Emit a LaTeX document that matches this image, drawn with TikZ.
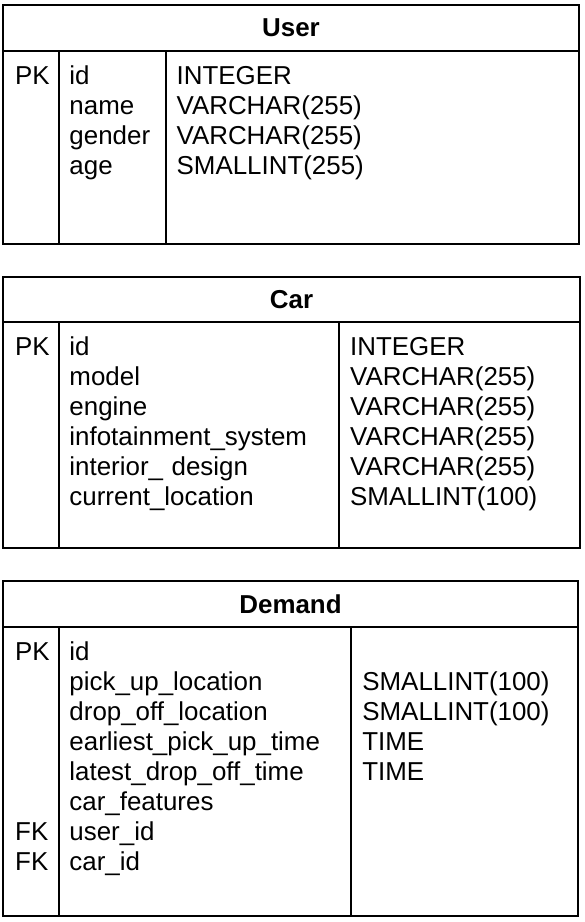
\documentclass[tikz,border=0pt]{standalone}
\usepackage{fontspec}
\setmainfont{Liberation Sans}
\usetikzlibrary{matrix}
\newcommand{\entityfont}{\fontsize{25.9pt}{30pt}\selectfont}
\tikzset{entity board/.style={
          matrix of nodes,
          row sep={30pt, between origins},
          column sep=0pt,
          nodes={anchor=base west, inner sep=0pt, align=left} % fixed text width so the columns start where the rules say
          },
        usercols/.style={
          column 1/.style={nodes={text width=54.3pt}},
          column 2/.style={nodes={text width=107.2pt}},
          },
        carcols/.style={
          column 1/.style={nodes={text width=54.3pt}},
          column 2/.style={nodes={text width=280.7pt}},
          },
        demandcols/.style={
          column 1/.style={nodes={text width=54.3pt}},
          column 2/.style={nodes={text width=292.7pt}},
          },
        entity frame/.style={line width=2pt},
        entity rule/.style={line width=1.6pt},
        entity title/.style={font=\entityfont\bfseries, inner sep=0pt},
}

\begin{document}
\begin{tikzpicture}[x=1pt, y=-1pt, font=\entityfont]
      \useasboundingbox (0,0) rectangle (585,922);
      % USER
      \draw[entity frame] (3,5) coordinate(usernw) rectangle (579,244) coordinate(userse);
      \draw[entity frame] (usernw |- 0,50.7) coordinate(userhw) -- (userse |- userhw) coordinate(userhe);
      \draw[entity rule] (userhw -| 59,0) -- (userse -| 59,0);
      \draw[entity rule] (userhw -| 166,0) -- (userse -| 166,0);
      \path (usernw) -- (userhe) node[midway, entity title] (usertitle) {User};
      \matrix[entity board, usercols, matrix anchor=user-1-1.base west] (user) at (15,84) {
        PK  &  id      &  INTEGER \\
            &  name    &  VARCHAR(255) \\
            &  gender  &  VARCHAR(255) \\
            &  age     &  SMALLINT(255) \\
        };

      % CAR
      \draw[entity frame] (3,277) coordinate(carnw) rectangle (580,548) coordinate(carse);
      \draw[entity frame] (carnw |- 0,322) coordinate(carhw) -- (carse |- carhw) coordinate(carhe);
      \draw[entity rule] (carhw -| 59,0) -- (carse -| 59,0);
      \draw[entity rule] (carhw -| 339,0) -- (carse -| 339,0);
      \path (carnw) -- (carhe) node[midway, entity title] (cartitle) {Car};
      \matrix[entity board, carcols, matrix anchor=car-1-1.base west] (car) at (15,355.3) {
        PK  &  id                     &  INTEGER \\
            &  model                  &  VARCHAR(255) \\
            &  engine                 &  VARCHAR(255) \\
            &  infotainment\_system   &  VARCHAR(255) \\
            &  interior\_ design      &  VARCHAR(255) \\
            &  current\_location      &  SMALLINT(100) \\
        };

      % DEMAND
      \draw[entity frame] (3,581) coordinate(demandnw) rectangle (578,916) coordinate(demandse);
      \draw[entity frame] (demandnw |- 0,627) coordinate(demandhw) -- (demandse |- demandhw) coordinate(demandhe);
      \draw[entity rule] (demandhw -| 59,0) -- (demandse -| 59,0);
      \draw[entity rule] (demandhw -| 351,0) -- (demandse -| 351,0);
      \path (demandnw) -- (demandhe) node[midway, entity title] (demandtitle) {Demand};
      \matrix[entity board, demandcols, matrix anchor=demand-1-1.base west] (demand) at (15,660.3) {
        PK  &  id                         &  \\
            &  pick\_up\_location         &  SMALLINT(100) \\
            &  drop\_off\_location        &  SMALLINT(100) \\
            &  earliest\_pick\_up\_time   &  TIME \\
            &  latest\_drop\_off\_time    &  TIME \\
            &  car\_features              &  \\
        FK  &  user\_id                   &  \\
        FK  &  car\_id                    &  \\
        };
\end{tikzpicture}
\end{document}
